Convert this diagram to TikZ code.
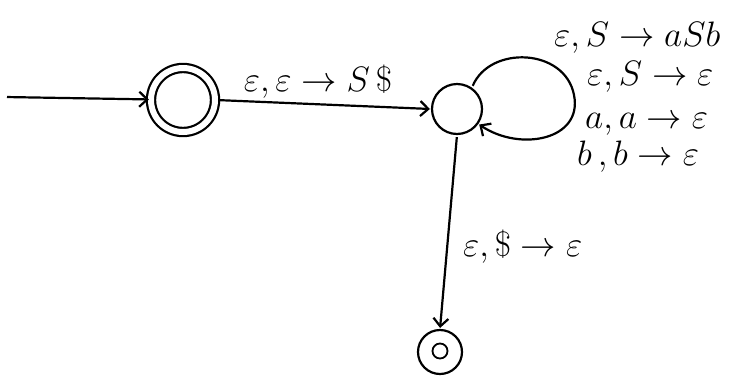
\documentclass[tikz,border=0pt]{standalone}
\usepackage{amsmath,amssymb}
\usepackage{graphicx}
\usepackage{tikz}
\usetikzlibrary{arrows.meta}
\newcommand{\pdatext}[1]{\scalebox{1.42}{\Huge $#1$}}
\tikzset{pdaarrow/.style={-{Straight Barb[length=8pt,width=15pt]}, line width=2.2pt, shorten <=2pt, shorten >=1pt}}
\tikzset{pdastate/.style={draw, circle, line width=2.2pt, inner sep=0pt}}
\tikzset{pdalabel/.style={inner sep=1pt}}

\begin{document}
\begin{tikzpicture}[x=1pt, y=-1pt]
\useasboundingbox (0,0) rectangle (752,381);
\node[pdastate, minimum size=64pt, double, double distance=6pt] (qstart) at (183,100) {};
\node[pdastate, minimum size=50pt] (qloop) at (457,109) {};
\node[pdastate, minimum size=44pt] (qacc) at (440,352) {};
\node[pdastate, minimum size=15pt, line width=1.8pt] (qaccin) at (440,351) {};
\coordinate (entry) at (5,97);
\draw[pdaarrow] (entry) -- (qstart);
\draw[pdaarrow] (qstart.east) -- (qloop.west);
\draw[pdaarrow] (qloop.55) .. controls (490,45) and (565,48) .. (574,95) .. controls (583,140) and (520,152) .. (qloop.-35);
\draw[pdaarrow] (qloop.south) -- (qacc.north);
\node[pdalabel] (lblpush) at (318,82) {\pdatext{\varepsilon, \varepsilon \rightarrow S\,\$}};
\node[pdalabel, anchor=west] (lblgrow) at (553,38) {\pdatext{\varepsilon, S \rightarrow a S b}};
\node[pdalabel, anchor=west] (lblend) at (586,77) {\pdatext{\varepsilon, S \rightarrow \varepsilon}};
\node[pdalabel, anchor=west] (lbla) at (584,124) {\pdatext{a, a \rightarrow \varepsilon}};
\node[pdalabel, anchor=west] (lblb) at (576,157) {\pdatext{b\,, b \rightarrow \varepsilon}};
\node[pdalabel, anchor=west] (lblpop) at (462,247) {\pdatext{\varepsilon, \$ \rightarrow \varepsilon}};
\end{tikzpicture}
\end{document}
